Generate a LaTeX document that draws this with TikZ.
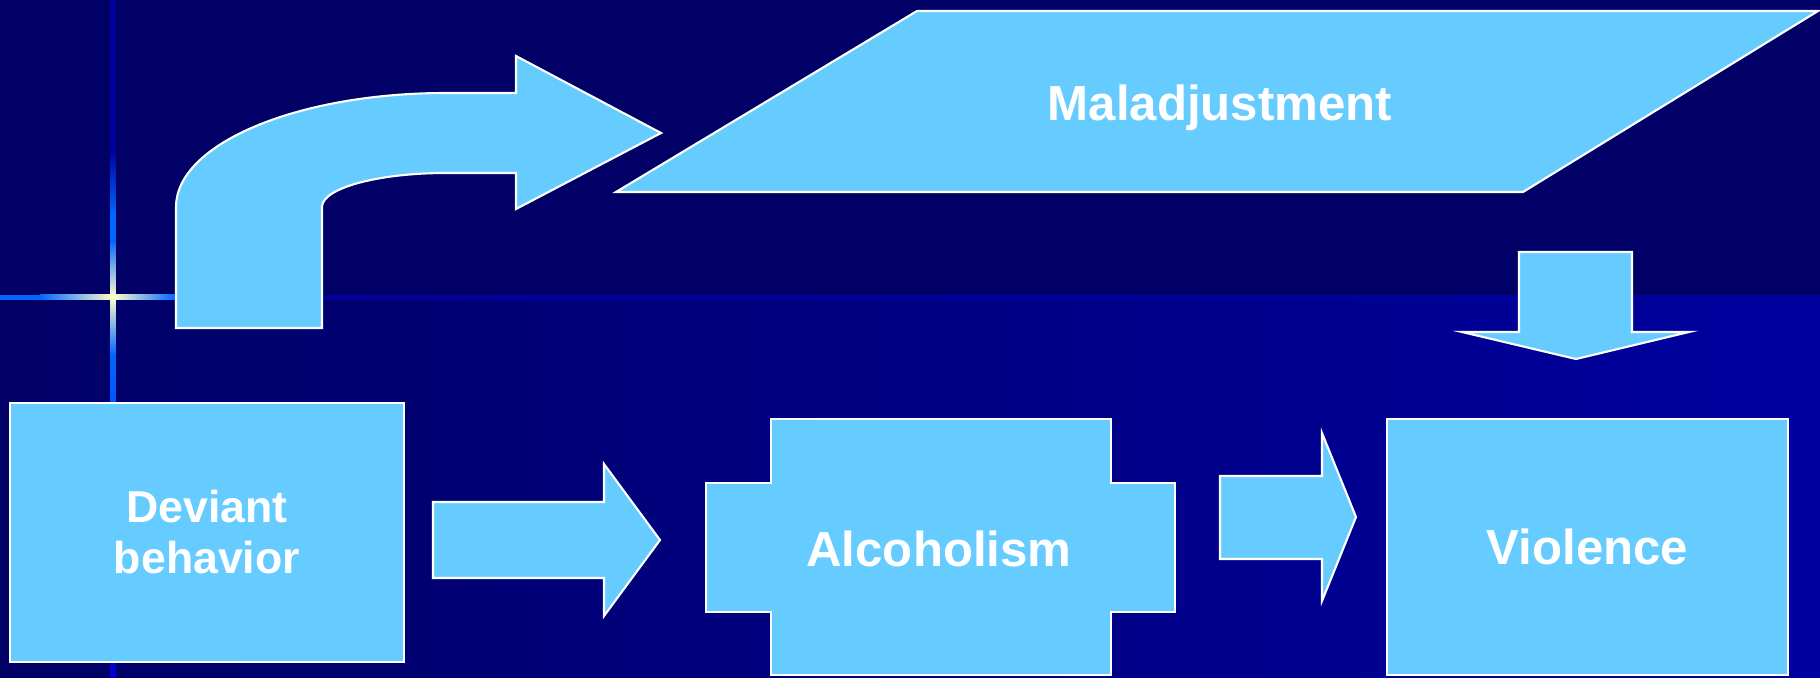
\documentclass[tikz,border=0pt]{standalone}
\usepackage{fontspec}
\setsansfont{Liberation Sans}
\definecolor{bgtop}{HTML}{000066}
\definecolor{bgright}{HTML}{00009F}
\definecolor{lineblue}{HTML}{0066FF}
\definecolor{darkline}{HTML}{00009A}
\definecolor{glow}{HTML}{FFFFCC}
\definecolor{boxblue}{HTML}{66CCFF}
\tikzset{
  blockshape/.style={fill=boxblue, draw=white, line width=0.6pt},
  boxtext/.style={text=white, font=\sffamily\bfseries\fontsize{14}{16}\selectfont, inner sep=0pt},
  box/.style={blockshape, boxtext, rectangle, outer sep=0pt, align=center}
}
\begin{document}
\begin{tikzpicture}
 \useasboundingbox (0,0) rectangle (18.2,6.77);
 \clip (0,0) rectangle (18.2,6.77);
 \fill[bgtop] (0,0) rectangle (18.2,6.77);
 \shade[left color=bgtop, right color=bgright] (0,0) rectangle (18.2,3.775);
 \fill[lineblue] (0,3.775) rectangle (0.40,3.825);
 \shade[left color=lineblue, right color=glow] (0.40,3.775) rectangle (1.13,3.825);
 \shade[left color=glow, right color=lineblue] (1.13,3.775) rectangle (1.75,3.825);
 \shade[left color=lineblue, right color=darkline] (1.75,3.775) rectangle (3.22,3.825);
 \fill[darkline] (3.22,3.775) rectangle (18.2,3.825);
 \fill[darkline] (1.105,6.77) rectangle (1.155,5.27);
 \shade[top color=darkline, bottom color=lineblue] (1.105,5.27) rectangle (1.155,4.62);
 \fill[lineblue] (1.105,4.62) rectangle (1.155,4.37);
 \shade[top color=lineblue, bottom color=glow] (1.105,4.37) rectangle (1.155,3.80);
 \shade[top color=glow, bottom color=lineblue] (1.105,3.80) rectangle (1.155,3.22);
 \shade[top color=lineblue, bottom color=blue!80!black] (1.105,3.22) rectangle (1.155,0);
 \draw[blockshape] (1.76,3.49) -- (1.76,4.70)
   arc[start angle=180, end angle=90, x radius=2.70, y radius=1.14]
   -- (5.16,5.84) -- (5.16,6.21) -- (6.61,5.44) -- (5.16,4.68) -- (5.16,5.04) -- (4.46,5.04)
   arc[start angle=90, end angle=180, x radius=1.24, y radius=0.34]
   -- (3.22,3.49) -- cycle;
 \draw[blockshape] (6.16,4.85) -- (9.17,6.66) -- (18.18,6.66) -- (15.23,4.85) -- cycle;
 \node[boxtext, anchor=base] (malad) at (12.20,5.57) {Maladjustment};
 \draw[blockshape] (15.19,4.25) -- (16.32,4.25) -- (16.32,3.45) -- (16.89,3.45) -- (15.76,3.18)
   -- (14.62,3.45) -- (15.19,3.45) -- cycle;
 \node[box, minimum width=3.94cm, minimum height=2.59cm,
   font=\sffamily\bfseries\fontsize{12.7}{14.5}\selectfont] (deviant) at (2.07,1.445) {Deviant\\behavior};
 \draw[blockshape] (4.33,0.99) -- (4.33,1.75) -- (6.04,1.75) -- (6.04,2.13) -- (6.60,1.37)
   -- (6.04,0.61) -- (6.04,0.99) -- cycle;
 \draw[blockshape] (7.71,0.02) -- (7.71,0.65) -- (7.06,0.65) -- (7.06,1.94) -- (7.71,1.94)
   -- (7.71,2.58) -- (11.11,2.58) -- (11.11,1.94) -- (11.75,1.94) -- (11.75,0.65)
   -- (11.11,0.65) -- (11.11,0.02) -- cycle;
 \node[boxtext, anchor=base] (alcohol) at (9.39,1.11) {Alcoholism};
 \draw[blockshape] (12.20,1.18) -- (12.20,2.01) -- (13.22,2.01) -- (13.22,2.44) -- (13.56,1.60)
   -- (13.22,0.76) -- (13.22,1.18) -- cycle;
 \node[box, minimum width=4.01cm, minimum height=2.56cm] (violence) at (15.875,1.30) {Violence};
\end{tikzpicture}
\end{document}
